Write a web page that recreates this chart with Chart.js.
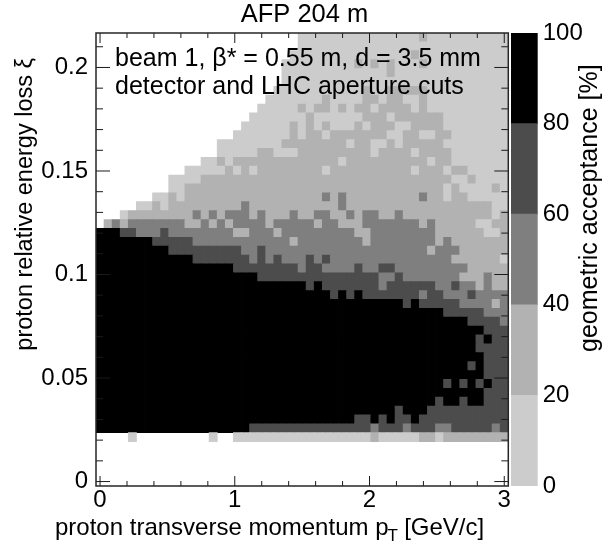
<!DOCTYPE html>
<html>
<head>
<meta charset="utf-8">
<title>AFP 204 m</title>
<script src="https://cdn.jsdelivr.net/npm/chart.js@4/dist/chart.umd.min.js"></script>
<style>
  html, body { margin: 0; padding: 0; background: #fff; }
  #wrap { position: relative; width: 610px; height: 548px; overflow: hidden; }
  canvas { position: absolute; left: 0; top: 0; }
</style>
</head>
<body>
<div id="wrap">
  <canvas id="mapChart" width="610" height="548"></canvas>
  <canvas id="barChart" width="610" height="548"></canvas>
</div>
<script>
// acceptance map, one string per xi bin from the top row down,
// one digit per pT bin (grouped by ten): 0 = no acceptance, 1..5 = the five grey bands
const acceptanceRows = [
  "0000000000 0000000000 0000011111 1111111111 2111111111 1",
  "0000000000 0000000000 0000011111 1111111111 1111111111 1",
  "0000000000 0000000000 0000111111 1111111112 1111111111 1",
  "0000000000 0000000000 0001111111 1121212111 2111111111 1",
  "0000000000 0000000000 0001111111 1111112111 1111111111 1",
  "0000000000 0000000000 0001111111 1111111111 1111111111 1",
  "0000000000 0000000000 0011111111 1112112222 2111111111 1",
  "0000000000 0000000000 0111111121 1112212211 2111111111 1",
  "0000000000 0000000000 1111121221 2122122221 2111111111 1",
  "0000000000 0000000001 1111112111 1112221222 2221111111 1",
  "0000000000 0000000011 1111212121 1121222112 2221111111 1",
  "0000000000 0000000111 1111212212 2222221122 1122111111 1",
  "0000000000 0000011111 1112222222 2122112122 2221111111 1",
  "0000000000 0000011111 2211122222 2222122221 2222111111 1",
  "0000000000 0001121222 2222222222 1222222222 2122111111 1",
  "0000000000 0111112121 2222222212 2222222221 2221221111 1",
  "0000000001 1112222222 2222222222 2222222222 2222112111 1",
  "0000000001 1222222222 2222222222 2222222222 2221211112 1",
  "0000000112 1222222222 2222222232 3222222222 3221221111 1",
  "0000011212 2222222232 2222222222 3222222222 2222222221 1",
  "0001222222 2232323332 3222322332 2323322322 2222222221 2",
  "0232333333 3223232333 3233333233 2223333333 2322222112 2",
  "5554433343 3333333223 3323333333 3322333333 3322222211 2",
  "5555555444 4433333333 3333233333 3332333333 3323222222 2",
  "5555555554 4444444433 4333333333 3333333333 3233322222 2",
  "5555555555 5544444443 4343334343 3333333333 3333222222 1",
  "5555555555 5555555444 4444434433 3343344333 3333332222 2",
  "5555555555 5555555555 4444444444 4444433433 3333322232 2",
  "5555555555 5555555555 5555554544 4444434444 4433433232 2",
  "5555555555 5555555555 5555555554 5454444444 3443334333 3",
  "5555555555 5555555555 5555555555 5555555545 4444433332 3",
  "5555555555 5555555555 5555555555 5555555555 5554444433 3",
  "5555555555 5555555555 5555555555 5555555555 5555554444 3",
  "5555555555 5555555555 5555555555 5555555555 5555555544 4",
  "5555555555 5555555555 5555555555 5555555555 5555555454 4",
  "5555555555 5555555555 5555555555 5555555555 5555555444 4",
  "5555555555 5555555555 5555555555 5555555555 5555555544 4",
  "5555555555 5555555555 5555555555 5555555555 5555554544 4",
  "5555555555 5555555555 5555555555 5555555555 5555555544 4",
  "5555555555 5555555555 5555555555 5555555555 5554545454 4",
  "5555555555 5555555555 5555555555 5555555555 5555555544 4",
  "5555555555 5555555555 5555555555 5555555555 5545545544 4",
  "5555555555 5555555555 5555555555 5555555455 5444444444 4",
  "5555555555 5555555555 5555555555 5544545445 4444444444 4",
  "5555555555 5555555554 4444444444 4444344434 4433444443 4",
  "0000100000 0000100111 1111111111 1111211111 2212222222 2",
  "0000000000 0000000000 0000000000 0000000000 0000000000 0",
  "0000000000 0000000000 0000000000 0000000000 0000000000 0",
  "0000000000 0000000000 0000000000 0000000000 0000000000 0",
  "0000000000 0000000000 0000000000 0000000000 0000000000 0",
  "0000000000 0000000000 0000000000 0000000000 0000000000 0"
];
const bandPercent = [0, 10, 30, 50, 70, 90]; // typical value of each digit
const bandEdges = [0, 20, 40, 60, 80, 100];
const bandColors = ["#cccccc", "#b2b2b2", "#7f7f7f", "#4c4c4c", "#000000"];

const xBinWidth = 0.06;
const yBinWidth = 0.00429;
const xTicks = [0, 1, 2, 3];
const xMinorTicks = [0.2, 0.4, 0.6, 0.8, 1.2, 1.4, 1.6, 1.8, 2.2, 2.4, 2.6, 2.8];
const yTicks = [0, 0.05, 0.1, 0.15, 0.2];
const yMinorTicks = [0.01, 0.02, 0.03, 0.04, 0.06, 0.07, 0.08, 0.09, 0.11, 0.12, 0.13, 0.14, 0.16, 0.17, 0.18, 0.19, 0.21];
const barTicks = [0, 20, 40, 60, 80, 100];

const FONT = '"Liberation Sans", Arial, sans-serif';
const TICK_SIZE = 24;

function bandColor(percent) {
  for (let i = 0; i < bandColors.length; i++) {
    if (percent < bandEdges[i + 1]) return bandColors[i];
  }
  return bandColors[bandColors.length - 1];
}

// one floating bar per filled cell
const rows = acceptanceRows.map(r => r.replace(/ /g, ""));
const cells = [];
rows.forEach((row, i) => {
  const k = rows.length - 1 - i;
  for (let c = 0; c < row.length; c++) {
    const band = Number(row[c]);
    if (band === 0) continue;
    const yc = k * yBinWidth;
    cells.push({
      x: c * xBinWidth,
      y: [yc - yBinWidth / 2, yc + yBinWidth / 2],
      v: bandPercent[band]
    });
  }
});

const frameAndText = {
  id: "frameAndText",
  afterDatasetsDraw(chart) {
    const { ctx, chartArea: a, scales: { x, y } } = chart;
    ctx.save();
    ctx.strokeStyle = "#1a1a1a";
    ctx.lineWidth = 1;
    ctx.beginPath();
    const tickX = (v, len) => {
      const px = x.getPixelForValue(v);
      ctx.moveTo(px, a.bottom); ctx.lineTo(px, a.bottom - len);
      ctx.moveTo(px, a.top); ctx.lineTo(px, a.top + len);
    };
    const tickY = (v, len) => {
      const py = y.getPixelForValue(v);
      ctx.moveTo(a.left, py); ctx.lineTo(a.left + len, py);
      ctx.moveTo(a.right, py); ctx.lineTo(a.right - len, py);
    };
    xTicks.forEach(v => tickX(v, 10));
    xMinorTicks.forEach(v => tickX(v, 5));
    yTicks.forEach(v => tickY(v, 14));
    yMinorTicks.forEach(v => tickY(v, 7));
    ctx.stroke();

    ctx.lineWidth = 1.5;
    ctx.strokeStyle = "#262626";
    ctx.strokeRect(a.left, a.top, a.right - a.left, a.bottom - a.top);

    ctx.fillStyle = "#000";
    ctx.textBaseline = "alphabetic";
    ctx.textAlign = "center";
    ctx.font = "25.5px " + FONT;
    ctx.fillText("AFP 204 m", 304.5, 22);

    ctx.textAlign = "left";
    ctx.font = "25px " + FONT;
    ctx.fillText("beam 1, β* = 0.55 m, d = 3.5 mm", 115, 66);
    ctx.fillText("detector and LHC aperture cuts", 115, 94);

    // x title with subscript T
    const part1 = "proton transverse momentum p";
    const part2 = " [GeV/c]";
    ctx.font = "24px " + FONT;
    const w1 = ctx.measureText(part1).width;
    ctx.fillText(part1, 55, 535);
    ctx.fillText(part2, 55 + w1 + 9, 535);
    ctx.font = "17px " + FONT;
    ctx.fillText("T", 55 + w1 - 1, 541);

    ctx.font = "23.5px " + FONT;
    ctx.translate(32, 58);
    ctx.rotate(-Math.PI / 2);
    ctx.textAlign = "right";
    ctx.fillText("proton relative energy loss ξ", 0, 0);
    ctx.restore();
  }
};

new Chart(document.getElementById("mapChart"), {
  type: "bar",
  data: {
    datasets: [{
      data: cells,
      backgroundColor: c => bandColor(c.raw ? c.raw.v : 0),
      borderWidth: 0,
      inflateAmount: 0.4,
      barPercentage: 1,
      categoryPercentage: 1
    }]
  },
  options: {
    responsive: false,
    animation: false,
    layout: { padding: { left: 0, right: 101.7, top: 33, bottom: 0 } },
    plugins: {
      legend: { display: false },
      tooltip: { enabled: false },
      title: { display: false }
    },
    scales: {
      x: {
        type: "linear",
        offset: false,
        min: -xBinWidth / 2,
        max: 50.5 * xBinWidth,
        grid: { display: false, offset: false, drawTicks: false },
        border: { display: false },
        afterBuildTicks: s => { s.ticks = xTicks.map(v => ({ value: v })); },
        afterFit: s => { s.height = 62; },
        ticks: {
          color: "#000",
          font: { family: FONT, size: TICK_SIZE },
          maxRotation: 0,
          autoSkip: false,
          padding: 0,
          callback: v => String(v)
        }
      },
      y: {
        min: -yBinWidth / 2,
        max: 50.5 * yBinWidth,
        grid: { display: false, drawTicks: false },
        border: { display: false },
        afterBuildTicks: s => { s.ticks = yTicks.map(v => ({ value: v })); },
        afterFit: s => { s.width = 96; },
        ticks: {
          color: "#000",
          font: { family: FONT, size: TICK_SIZE },
          autoSkip: false,
          padding: 8,
          callback: v => String(v)
        }
      }
    }
  },
  plugins: [frameAndText]
});

const barTitle = {
  id: "barTitle",
  afterDatasetsDraw(chart) {
    const { ctx } = chart;
    ctx.save();
    ctx.fillStyle = "#000";
    ctx.font = "25px " + FONT;
    ctx.translate(597, 352);
    ctx.rotate(-Math.PI / 2);
    ctx.textAlign = "left";
    ctx.fillText("geometric acceptance [%]", 0, 0);
    ctx.restore();
  }
};

new Chart(document.getElementById("barChart"), {
  type: "bar",
  data: {
    labels: ["acceptance"],
    datasets: bandColors.map((color, i) => ({
      data: [[bandEdges[i], bandEdges[i + 1]]],
      backgroundColor: color,
      borderWidth: 0,
      grouped: false,
      barPercentage: 1,
      categoryPercentage: 1
    }))
  },
  options: {
    responsive: false,
    animation: false,
    layout: { padding: { left: 511, right: 0, top: 33, bottom: 62 } },
    plugins: { legend: { display: false }, tooltip: { enabled: false }, title: { display: false } },
    scales: {
      x: { display: false },
      y: {
        position: "right",
        min: 0,
        max: 100,
        grid: { display: false, drawTicks: false },
        border: { display: false },
        afterBuildTicks: s => { s.ticks = barTicks.map(v => ({ value: v })); },
        afterFit: s => { s.width = 72.3; },
        ticks: {
          color: "#000",
          font: { family: FONT, size: TICK_SIZE },
          autoSkip: false,
          padding: 5,
          callback: v => String(v)
        }
      }
    }
  },
  plugins: [barTitle]
});
</script>
</body>
</html>
